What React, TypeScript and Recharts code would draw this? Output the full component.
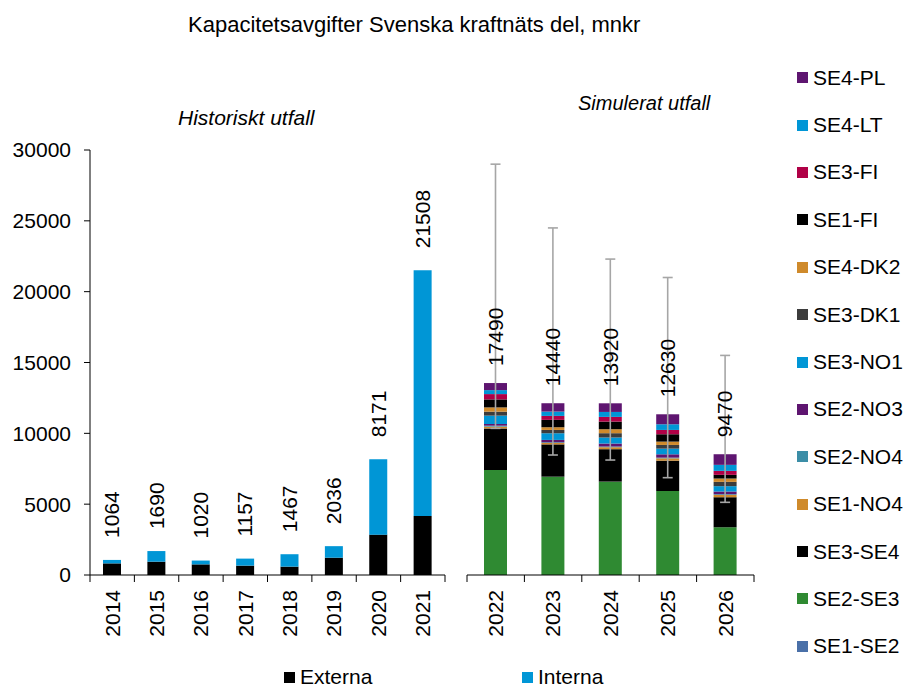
import React from "react"
import { Bar, BarChart, ErrorBar, LabelList, Legend, XAxis, YAxis } from "recharts"

const FONT = "'Liberation Sans', Arial, sans-serif"

// Historiskt utfall
const YEARS_HIST = ["2014", "2015", "2016", "2017", "2018", "2019", "2020", "2021"]
const EXTERNA = [820, 940, 750, 660, 590, 1220, 2850, 4160]
const INTERNA = [244, 750, 270, 497, 877, 816, 5321, 17348]
const TOTAL_HIST = [1064, 1690, 1020, 1157, 1467, 2036, 8171, 21508]

// Simulerat utfall
const YEARS_SIM = ["2022", "2023", "2024", "2025", "2026"]
const SE1_SE2 = [0, 0, 0, 0, 0]
const SE2_SE3 = [7410, 6940, 6590, 5930, 3370]
const SE3_SE4 = [2940, 2280, 2290, 2140, 2120]
const SE1_NO4 = [120, 100, 140, 165, 165]
const SE2_NO4 = [70, 50, 50, 50, 50]
const SE2_NO3 = [120, 165, 210, 235, 190]
const SE3_NO1 = [590, 470, 425, 400, 375]
const SE3_DK1 = [280, 235, 305, 260, 305]
const SE4_DK2 = [300, 190, 280, 235, 235]
const SE1_FI = [565, 520, 540, 520, 260]
const SE3_FI = [375, 280, 330, 305, 280]
const SE4_LT = [280, 305, 350, 400, 425]
const SE4_PL = [500, 590, 610, 705, 750]
const SIM_LABEL = [17490, 14440, 13920, 12630, 9470]
const ERR_LOW = [10350, 8470, 8115, 6870, 5130]
const ERR_HIGH = [29000, 24500, 22300, 21000, 15500]

const Y_TICKS = [0, 5000, 10000, 15000, 20000, 25000, 30000]

// stacking order, bottom first
const SIM_SERIES = [
  { name: "SE1-SE2", values: SE1_SE2, color: "#4a70a8" },
  { name: "SE2-SE3", values: SE2_SE3, color: "#2f8a32" },
  { name: "SE3-SE4", values: SE3_SE4, color: "#000000" },
  { name: "SE1-NO4", values: SE1_NO4, color: "#cf8a2b" },
  { name: "SE2-NO4", values: SE2_NO4, color: "#3c8ea7" },
  { name: "SE2-NO3", values: SE2_NO3, color: "#5e1570" },
  { name: "SE3-NO1", values: SE3_NO1, color: "#0096d6" },
  { name: "SE3-DK1", values: SE3_DK1, color: "#3c3c3c" },
  { name: "SE4-DK2", values: SE4_DK2, color: "#cf8a2b" },
  { name: "SE1-FI", values: SE1_FI, color: "#000000" },
  { name: "SE3-FI", values: SE3_FI, color: "#b00046" },
  { name: "SE4-LT", values: SE4_LT, color: "#0096d6" },
  { name: "SE4-PL", values: SE4_PL, color: "#5e1570" },
]

const histData = YEARS_HIST.map((year, i) => ({
  year,
  Externa: EXTERNA[i],
  Interna: INTERNA[i],
  label: TOTAL_HIST[i],
}))

const simData = YEARS_SIM.map((year, i) => {
  const row: Record<string, any> = { year, label: SIM_LABEL[i] }
  let total = 0
  SIM_SERIES.forEach((s) => {
    row[s.name] = s.values[i]
    total += s.values[i]
  })
  row.err = [total - ERR_LOW[i], ERR_HIGH[i] - total]
  return row
})

const makeYearTick = (count: number) => (props: any) => {
  const { x, y, payload, index } = props
  const half = payload.offset ?? 0
  return (
    <g>
      <line x1={x - half} x2={x - half} y1={y} y2={y + 7} stroke="#000" />
      {index === count - 1 && <line x1={x + half} x2={x + half} y1={y} y2={y + 7} stroke="#000" />}
      <text
        x={x}
        y={y + 15}
        dy="0.35em"
        transform={`rotate(-90 ${x} ${y + 15})`}
        textAnchor="end"
        fontSize={21}
        fontFamily={FONT}
        fill="#000"
      >
        {payload.value}
      </text>
    </g>
  )
}

const makeTopLabel = (gap: number) => (props: any) => {
  const vb = props.viewBox ?? props
  const x = Number(props.x ?? vb.x)
  const y = Number(props.y ?? vb.y)
  const w = Number(props.width ?? vb.width)
  const cx = x + w / 2
  const ty = y - gap
  return (
    <text
      x={cx}
      y={ty}
      dy="0.35em"
      transform={`rotate(-90 ${cx} ${ty})`}
      textAnchor="start"
      fontSize={21}
      fontFamily={FONT}
      fill="#000"
    >
      {props.value}
    </text>
  )
}

const Swatch = ({ color }: { color: string }) => (
  <span style={{ display: "inline-block", width: 11, height: 11, background: color, marginRight: 5 }} />
)

const BottomLegend = (props: any) => {
  const items = props.payload ?? []
  return (
    <div style={{ display: "flex", fontFamily: FONT, fontSize: 21, color: "#000" }}>
      {items.map((it: any) => (
        <div key={it.value} style={{ width: 238, display: "flex", alignItems: "center", lineHeight: "22px" }}>
          <Swatch color={it.color} />
          {it.value}
        </div>
      ))}
    </div>
  )
}

const SideLegend = (props: any) => {
  const items = props.payload ?? []
  const order = SIM_SERIES.map((s) => s.name).reverse()
  const sorted = order.map((n) => items.find((it: any) => it.value === n)).filter(Boolean)
  return (
    <div style={{ fontFamily: FONT, fontSize: 21, color: "#000" }}>
      {sorted.map((it: any) => (
        <div key={it.value} style={{ height: 47.4, display: "flex", alignItems: "center" }}>
          <Swatch color={it.color} />
          {it.value}
        </div>
      ))}
    </div>
  )
}

export default function App() {
  return (
    <div style={{ position: "absolute", left: 0, top: 0, width: 908, height: 690, background: "#fff", fontFamily: FONT, overflow: "hidden" }}>
      <div style={{ position: "absolute", left: 0, top: 0 }}>
        <BarChart width={908} height={690} data={histData} margin={{ top: 150, right: 463, bottom: 55, left: 0 }}>
          <XAxis
            dataKey="year"
            axisLine={{ stroke: "#000" }}
            tickLine={false}
            tickSize={0}
            tickMargin={0}
            height={60}
            interval={0}
            tick={makeYearTick(YEARS_HIST.length)}
          />
          <YAxis
            width={90}
            domain={[0, 30000]}
            ticks={Y_TICKS}
            interval={0}
            axisLine={{ stroke: "#000" }}
            tickLine={{ stroke: "#000" }}
            tickSize={6}
            tickMargin={13}
            tick={{ fill: "#000", fontSize: 21, fontFamily: FONT }}
          />
          <Legend
            layout="horizontal"
            verticalAlign="middle"
            align="center"
            content={<BottomLegend />}
            wrapperStyle={{ left: 284, top: 666, width: 500 }}
          />
          <Bar dataKey="Externa" stackId="h" fill="#000000" barSize={18} isAnimationActive={false} />
          <Bar dataKey="Interna" stackId="h" fill="#0096d6" barSize={18} isAnimationActive={false}>
            <LabelList dataKey="label" content={makeTopLabel(22)} />
          </Bar>
        </BarChart>
      </div>

      <div style={{ position: "absolute", left: 460, top: 0 }}>
        <BarChart width={448} height={690} data={simData} margin={{ top: 150, right: 154, bottom: 55, left: 7 }}>
          <XAxis
            dataKey="year"
            axisLine={{ stroke: "#000" }}
            tickLine={false}
            tickSize={0}
            tickMargin={0}
            height={60}
            interval={0}
            tick={makeYearTick(YEARS_SIM.length)}
          />
          <YAxis hide domain={[0, 30000]} ticks={Y_TICKS} />
          <Legend
            layout="horizontal"
            verticalAlign="middle"
            align="center"
            content={<SideLegend />}
            wrapperStyle={{ left: 337, top: 54, width: 111 }}
          />
          {SIM_SERIES.map((s, i) => (
            <Bar key={s.name} dataKey={s.name} stackId="s" fill={s.color} barSize={23} isAnimationActive={false}>
              {i === SIM_SERIES.length - 1 && <ErrorBar dataKey="err" direction="y" width={5} stroke="#a6a6a6" strokeWidth={1.6} />}
              {i === SIM_SERIES.length - 1 && <LabelList dataKey="label" content={makeTopLabel(17)} />}
            </Bar>
          ))}
        </BarChart>
      </div>

      <div style={{ position: "absolute", left: 188, top: 13, fontSize: 22, lineHeight: "24px", whiteSpace: "nowrap" }}>
        Kapacitetsavgifter Svenska kraftnäts del, mnkr
      </div>
      <div style={{ position: "absolute", left: 178, top: 106, fontSize: 21, lineHeight: "24px", fontStyle: "italic", whiteSpace: "nowrap" }}>
        Historiskt utfall
      </div>
      <div style={{ position: "absolute", left: 578, top: 91, fontSize: 20, lineHeight: "24px", fontStyle: "italic", whiteSpace: "nowrap" }}>
        Simulerat utfall
      </div>
    </div>
  )
}
